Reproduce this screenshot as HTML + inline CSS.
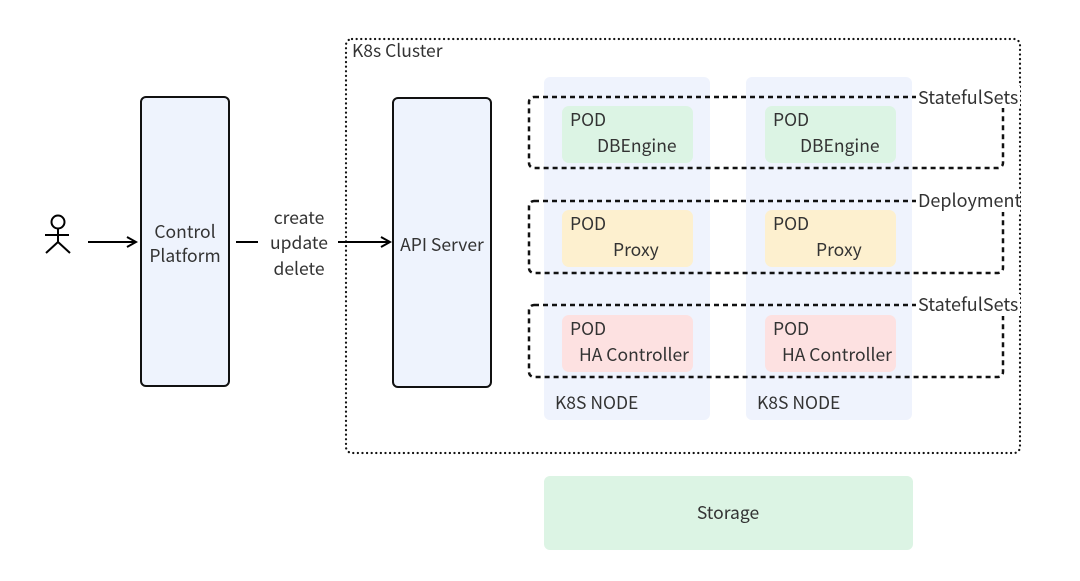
<!DOCTYPE html>
<html><head><meta charset="utf-8"><style>
html,body{margin:0;padding:0;background:#fff;}
svg{display:block;}
text{font-family:"Noto Sans CJK SC","Liberation Sans",sans-serif;font-size:17.5px;fill:#333;}
.g{font-size:18px;}
</style></head><body>
<svg width="1080" height="581" viewBox="0 0 1080 581" xmlns="http://www.w3.org/2000/svg">
<defs>
<marker id="ar" markerWidth="12" markerHeight="12" refX="10" refY="6" orient="auto" markerUnits="userSpaceOnUse">
<path d="M1,1 L10,6 L1,11" fill="none" stroke="#000" stroke-width="2"/>
</marker>
</defs>
<rect x="346" y="39" width="674" height="414" rx="6" fill="none" stroke="#111" stroke-width="2.2" stroke-dasharray="0.1 4.5" stroke-linecap="round"/>
<text x="352" y="57">K8s Cluster</text>
<g stroke="#000" stroke-width="2" fill="none">
<circle cx="58" cy="222" r="6.5"/>
<line x1="58" y1="229" x2="58" y2="242"/>
<line x1="45" y1="235" x2="69" y2="235"/>
<line x1="46" y1="253" x2="58" y2="242"/>
<line x1="58" y1="242" x2="70" y2="253"/>
</g>
<line x1="88" y1="242" x2="136" y2="242" stroke="#000" stroke-width="2" marker-end="url(#ar)"/>
<rect x="141" y="97" width="88" height="289" rx="5" fill="#eef3fd" stroke="#111" stroke-width="2"/>
<text x="185" y="238" text-anchor="middle">Control</text>
<text x="185" y="262" text-anchor="middle">Platform</text>
<line x1="236" y1="242" x2="258" y2="242" stroke="#000" stroke-width="2"/>
<text x="299" y="224" text-anchor="middle">create</text>
<text x="299" y="249" text-anchor="middle">update</text>
<text x="299" y="275" text-anchor="middle">delete</text>
<line x1="338" y1="242" x2="390" y2="242" stroke="#000" stroke-width="2" marker-end="url(#ar)"/>
<rect x="393" y="98" width="98" height="289" rx="5" fill="#eef3fd" stroke="#111" stroke-width="2"/>
<text x="442" y="251" text-anchor="middle">API Server</text>
<rect x="544" y="77" width="166" height="343" rx="6" fill="#eff3fd"/>
<rect x="746" y="77" width="166" height="343" rx="6" fill="#eff3fd"/>
<text x="555" y="409">K8S NODE</text>
<text x="757" y="409">K8S NODE</text>
<rect x="562" y="106" width="131" height="57" rx="7" fill="#dcf4e4"/>
<rect x="765" y="106" width="131" height="57" rx="7" fill="#dcf4e4"/>
<rect x="562" y="210" width="131" height="57" rx="7" fill="#fdf0cf"/>
<rect x="765" y="210" width="131" height="57" rx="7" fill="#fdf0cf"/>
<rect x="562" y="315" width="131" height="57" rx="7" fill="#fde1e1"/>
<rect x="765" y="315" width="131" height="57" rx="7" fill="#fde1e1"/>
<text x="570" y="126">POD</text><text x="597" y="152">DBEngine</text>
<text x="773" y="126">POD</text><text x="800" y="152">DBEngine</text>
<text x="570" y="230">POD</text><text x="613" y="256">Proxy</text>
<text x="773" y="230">POD</text><text x="816" y="256">Proxy</text>
<text x="570" y="335">POD</text><text x="579" y="361">HA Controller</text>
<text x="773" y="335">POD</text><text x="782" y="361">HA Controller</text>
<g fill="none" stroke="#111" stroke-width="2.5" stroke-dasharray="5 4">
<rect x="529" y="97" width="474" height="71" rx="5"/>
<rect x="529" y="201" width="474" height="72" rx="5"/>
<rect x="529" y="305" width="474" height="72" rx="5"/>
</g>
<rect x="916" y="86" width="104" height="22" fill="#fff"/>
<rect x="916" y="190" width="104" height="22" fill="#fff"/>
<rect x="916" y="294" width="104" height="22" fill="#fff"/>
<text class="g" x="918" y="104">StatefulSets</text>
<text class="g" x="918" y="207">Deployment</text>
<text class="g" x="918" y="311">StatefulSets</text>
<rect x="544" y="476" width="369" height="74" rx="6" fill="#dcf4e4"/>
<text x="728" y="519" text-anchor="middle">Storage</text>
</svg>
</body></html>
